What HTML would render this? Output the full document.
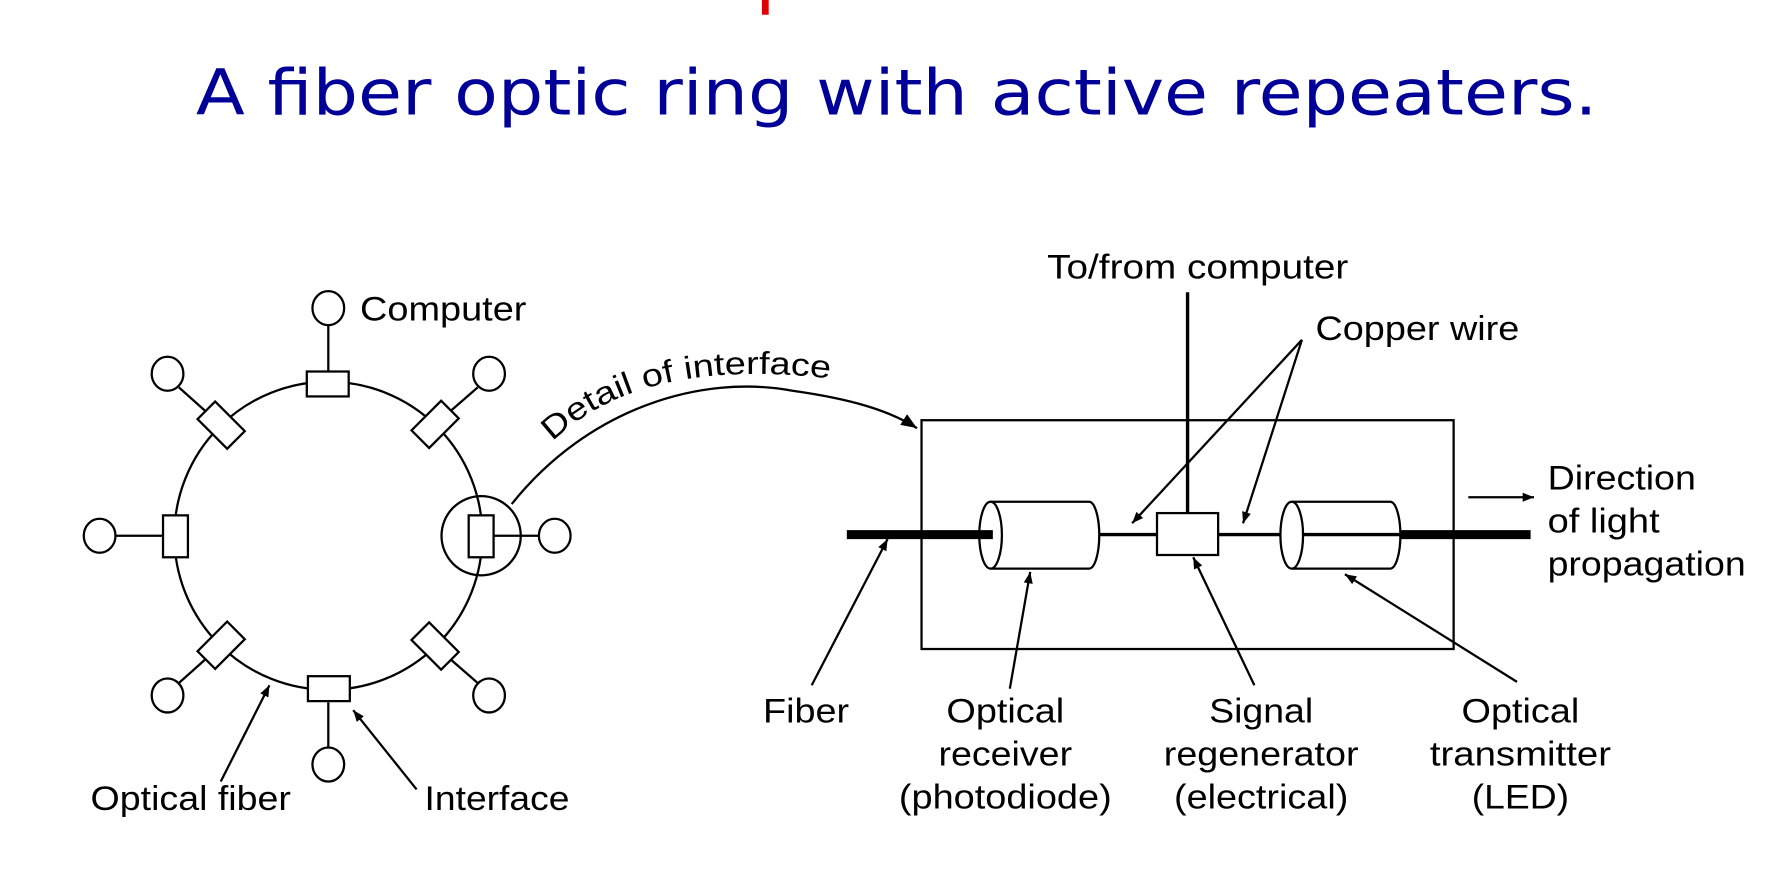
<!DOCTYPE html>
<html><head><meta charset="utf-8"><style>
html,body{margin:0;padding:0;background:#fff;}
svg{display:block;}
text{font-family:"Liberation Sans",Arial,sans-serif;fill:#000;}
</style></head><body>
<svg width="1774" height="888" viewBox="0 0 1567 784" preserveAspectRatio="none" xmlns="http://www.w3.org/2000/svg">
<defs>
<marker id="ah" viewBox="0 0 10 10" refX="10" refY="5" markerWidth="16" markerHeight="10" orient="auto-start-reverse" markerUnits="userSpaceOnUse">
<path d="M0,1 L10,5 L0,9 z" fill="#000"/></marker>
<marker id="ah2" viewBox="0 0 10 10" refX="10" refY="5" markerWidth="22" markerHeight="14" orient="auto" markerUnits="userSpaceOnUse">
<path d="M0,1 L10,5 L0,9 z" fill="#000"/></marker>
<path id="curvePath" d="M452,445 C520,360 620,330 700,345 C750,352 785,362 810,378"/>
<path id="textPath1" d="M488,390 C540,340 620,320 740,335"/>
</defs>
<rect x="673" y="0" width="6" height="13" fill="#e00000"/>
<text x="792" y="101" text-anchor="middle" font-size="56" textLength="1238" lengthAdjust="spacingAndGlyphs" style="font-family:'DejaVu Sans',Verdana,sans-serif;fill:#000099">A fiber optic ring with active repeaters.</text>

<g stroke="#000" stroke-width="2" fill="none">
<circle cx="290" cy="473" r="136"/>
<circle cx="425" cy="473" r="35" fill="none"/>
<line x1="290" y1="286" x2="290" y2="328"/><ellipse cx="290" cy="272" rx="14" ry="15" fill="#fff"/>
<rect x="271" y="328" width="37" height="22" fill="#fff"/>
<line x1="290" y1="620" x2="290" y2="661"/><ellipse cx="290" cy="675" rx="14" ry="15" fill="#fff"/>
<rect x="272" y="597" width="37" height="22" fill="#fff"/>
<line x1="102" y1="473" x2="144" y2="473"/><ellipse cx="88" cy="473" rx="14" ry="15" fill="#fff"/>
<rect x="144" y="455" width="22" height="37" fill="#fff"/>
<line x1="436" y1="473" x2="476" y2="473"/><ellipse cx="490" cy="473" rx="14" ry="15" fill="#fff"/>
<rect x="414" y="455" width="22" height="37" fill="#fff"/>
<line x1="158" y1="342" x2="195" y2="375"/><ellipse cx="148" cy="330" rx="14" ry="15" fill="#fff"/>
<rect x="177" y="364" width="37" height="22" fill="#fff" transform="rotate(45 195 375)"/>
<line x1="422" y1="342" x2="384" y2="375"/><ellipse cx="432" cy="330" rx="14" ry="15" fill="#fff"/>
<rect x="366" y="364" width="37" height="22" fill="#fff" transform="rotate(-45 384 375)"/>
<line x1="158" y1="603" x2="195" y2="570"/><ellipse cx="148" cy="614" rx="14" ry="15" fill="#fff"/>
<rect x="177" y="559" width="37" height="22" fill="#fff" transform="rotate(-45 195 570)"/>
<line x1="422" y1="603" x2="384" y2="570"/><ellipse cx="432" cy="614" rx="14" ry="15" fill="#fff"/>
<rect x="366" y="559" width="37" height="22" fill="#fff" transform="rotate(45 384 570)"/>
</g>
<text x="318" y="283" font-size="30" textLength="147" lengthAdjust="spacingAndGlyphs">Computer</text>
<text x="80" y="715" font-size="30" textLength="177" lengthAdjust="spacingAndGlyphs">Optical fiber</text>
<text x="375" y="715" font-size="30" textLength="128" lengthAdjust="spacingAndGlyphs">Interface</text>
<g stroke="#000" stroke-width="2" fill="none">
<line x1="195" y1="690" x2="238" y2="605" marker-end="url(#ah)"/>
<line x1="368" y1="697" x2="312" y2="627" marker-end="url(#ah)"/>
<use href="#curvePath" marker-end="url(#ah2)"/>
</g>
<text font-size="28"><textPath href="#textPath1" textLength="260" lengthAdjust="spacingAndGlyphs">Detail of interface</textPath></text>

<g stroke="#000" fill="none">
<rect x="814" y="371" width="470" height="202" stroke-width="2"/>
<line x1="1049" y1="258" x2="1049" y2="453" stroke-width="3"/>
<line x1="970" y1="472" x2="1022" y2="472" stroke-width="3"/>
<line x1="1076" y1="472" x2="1140" y2="472" stroke-width="3"/>
<path d="M875,443 L962,443 A9,29.5 0 0 1 962,502 L875,502" stroke-width="2" fill="#fff"/>
<ellipse cx="875" cy="472.5" rx="10" ry="29.5" stroke-width="2" fill="#fff"/>
<path d="M1141,443 L1228,443 A9,29.5 0 0 1 1228,502 L1141,502" stroke-width="2" fill="#fff"/>
<ellipse cx="1141" cy="472.5" rx="10" ry="29.5" stroke-width="2" fill="#fff"/>
<line x1="748" y1="472" x2="877" y2="472" stroke-width="8"/>
<line x1="1237" y1="472" x2="1352" y2="472" stroke-width="8"/>
<line x1="1150" y1="472" x2="1237" y2="472" stroke-width="3"/>
<rect x="1022" y="453" width="54" height="37" stroke-width="2" fill="#fff"/>
<line x1="1150" y1="300" x2="1000" y2="462" stroke-width="2" marker-end="url(#ah)"/>
<line x1="1150" y1="300" x2="1098" y2="462" stroke-width="2" marker-end="url(#ah)"/>
<line x1="1297" y1="439" x2="1355" y2="439" stroke-width="2" marker-end="url(#ah)"/>
<line x1="717" y1="605" x2="784" y2="476" stroke-width="2" marker-end="url(#ah)"/>
<line x1="892" y1="608" x2="910" y2="505" stroke-width="2" marker-end="url(#ah)"/>
<line x1="1108" y1="605" x2="1054" y2="492" stroke-width="2" marker-end="url(#ah)"/>
<line x1="1340" y1="602" x2="1188" y2="507" stroke-width="2" marker-end="url(#ah)"/>
</g>
<g font-size="30">
<text x="1058" y="246" text-anchor="middle" textLength="266" lengthAdjust="spacingAndGlyphs">To/from computer</text>
<text x="1162" y="300" textLength="180" lengthAdjust="spacingAndGlyphs">Copper wire</text>
<text x="1367" y="432" textLength="131" lengthAdjust="spacingAndGlyphs">Direction</text>
<text x="1367" y="470" textLength="99" lengthAdjust="spacingAndGlyphs">of light</text>
<text x="1367" y="508" textLength="175" lengthAdjust="spacingAndGlyphs">propagation</text>
<text x="712" y="638" text-anchor="middle" textLength="76" lengthAdjust="spacingAndGlyphs">Fiber</text>
<text x="888" y="638" text-anchor="middle" textLength="104" lengthAdjust="spacingAndGlyphs">Optical</text>
<text x="888" y="676" text-anchor="middle" textLength="118" lengthAdjust="spacingAndGlyphs">receiver</text>
<text x="888" y="714" text-anchor="middle" textLength="188" lengthAdjust="spacingAndGlyphs">(photodiode)</text>
<text x="1114" y="638" text-anchor="middle" textLength="92" lengthAdjust="spacingAndGlyphs">Signal</text>
<text x="1114" y="676" text-anchor="middle" textLength="172" lengthAdjust="spacingAndGlyphs">regenerator</text>
<text x="1114" y="714" text-anchor="middle" textLength="154" lengthAdjust="spacingAndGlyphs">(electrical)</text>
<text x="1343" y="638" text-anchor="middle" textLength="104" lengthAdjust="spacingAndGlyphs">Optical</text>
<text x="1343" y="676" text-anchor="middle" textLength="160" lengthAdjust="spacingAndGlyphs">transmitter</text>
<text x="1343" y="714" text-anchor="middle" textLength="86" lengthAdjust="spacingAndGlyphs">(LED)</text>
</g>
</svg>
</body></html>
